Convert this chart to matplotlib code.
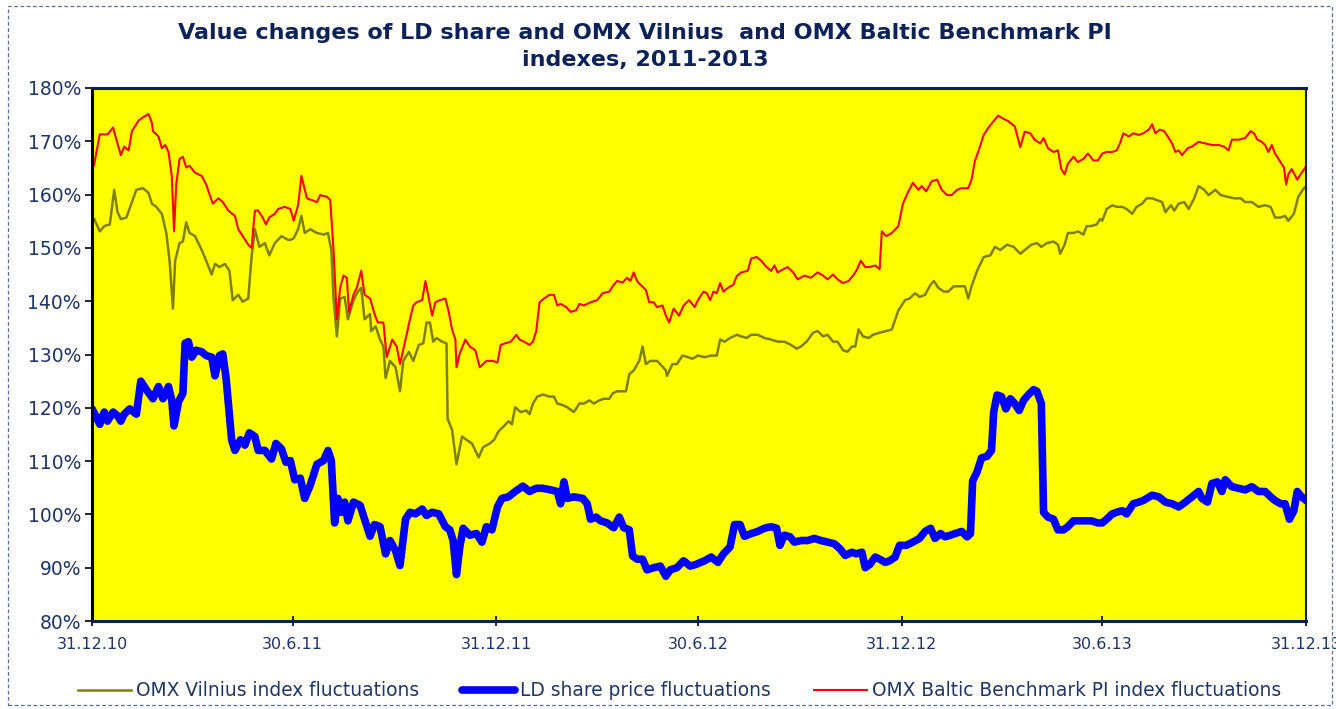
import matplotlib
matplotlib.use('Agg')
import matplotlib.pyplot as plt
from matplotlib.patches import Rectangle

# days since 31.12.2010, values in %
vilnius_day = [0, 2, 7, 11, 16, 20, 23, 26, 31, 36, 40, 46, 51, 54, 58, 63, 67, 70, 73, 75,
               79, 82, 85, 88, 93, 99, 103, 108, 111, 115, 120, 124, 127, 132, 136, 141, 144, 147, 151, 156,
               160, 165, 171, 177, 179, 182, 186, 189, 192, 197, 203, 209, 213, 216, 218, 221, 224, 228, 231, 236,
               240, 243, 246, 251, 252, 256, 260, 263, 265, 269, 274, 278, 281, 286, 290, 295, 299, 302, 305, 308,
               311, 316, 320, 321, 325, 329, 334, 338, 343, 349, 353, 359, 363, 367, 372, 376, 379, 382, 387, 392,
               395, 398, 402, 407, 413, 417, 420, 425, 429, 435, 440, 444, 449, 453, 458, 462, 467, 470, 474, 479,
               482, 485, 489, 494, 497, 500, 504, 510, 513, 518, 519, 524, 528, 533, 538, 542, 547, 553, 559, 564,
               567, 571, 576, 582, 586, 591, 595, 601, 607, 613, 619, 625, 631, 636, 640, 645, 651, 655, 660, 664,
               669, 673, 678, 682, 686, 689, 692, 696, 701, 705, 711, 717, 722, 728, 734, 738, 743, 747, 752, 757,
               760, 764, 769, 773, 778, 784, 788, 791, 794, 799, 805, 811, 815, 820, 826, 832, 838, 842, 848, 853,
               857, 862, 868, 872, 874, 878, 881, 886, 890, 895, 898, 902, 907, 910, 912, 916, 921, 925, 930, 934,
               939, 943, 948, 952, 957, 962, 966, 969, 974, 977, 981, 986, 990, 995, 999, 1004, 1008, 1014, 1019, 1025,
               1031, 1037, 1041, 1047, 1053, 1059, 1064, 1068, 1073, 1077, 1080, 1085, 1089, 1094, 1096]
vilnius_pct = [155.7, 155.4, 153.1, 154.1, 154.4, 160.9, 156.7, 155.4, 155.7, 158.6, 160.9, 161.2, 160.3, 158.3, 157.7, 156.4, 152.8, 147.6, 138.6, 147.6,
               150.9, 151.2, 154.8, 152.8, 152.2, 149.6, 147.6, 145.0, 147.0, 146.4, 147.0, 145.7, 140.2, 141.2, 139.9, 140.5, 148.3, 153.5, 150.2, 150.9,
               148.6, 150.9, 152.2, 151.5, 151.5, 151.8, 153.5, 156.0, 152.8, 153.5, 152.8, 152.5, 152.8, 149.6, 140.5, 133.4, 140.5, 140.8, 136.6, 140.2,
               141.8, 142.5, 136.6, 137.6, 134.4, 135.3, 132.8, 131.5, 125.6, 128.8, 127.6, 123.1, 128.8, 130.5, 128.8, 131.8, 132.1, 136.0, 136.0, 132.4,
               133.1, 132.4, 132.1, 117.9, 115.9, 109.4, 114.6, 114.0, 113.3, 110.7, 112.6, 113.3, 114.0, 115.6, 116.6, 117.5, 116.9, 120.1, 119.2, 119.5,
               118.8, 120.8, 122.1, 122.5, 122.1, 122.1, 120.8, 120.5, 120.1, 119.2, 120.8, 120.8, 121.4, 120.8, 121.4, 121.7, 121.7, 122.7, 123.1, 123.1,
               123.1, 126.3, 127.0, 128.8, 131.5, 128.2, 128.8, 128.8, 128.2, 127.0, 126.0, 128.2, 128.2, 129.8, 129.5, 129.2, 129.8, 129.5, 129.8, 129.8,
               132.8, 132.4, 133.1, 133.7, 133.4, 133.1, 133.7, 133.7, 133.1, 132.8, 132.4, 132.4, 131.8, 131.1, 131.5, 132.4, 134.1, 134.4, 133.4, 133.7,
               132.4, 132.4, 130.8, 130.5, 131.5, 131.5, 134.7, 133.4, 133.1, 133.7, 134.1, 134.4, 134.7, 138.3, 140.2, 140.5, 141.5, 140.8, 141.2, 143.1,
               143.8, 142.5, 141.8, 141.8, 142.8, 142.8, 142.8, 140.5, 142.8, 145.7, 148.3, 148.6, 150.2, 149.6, 150.6, 150.2, 148.9, 149.6, 150.6, 150.9,
               150.2, 150.9, 151.2, 150.6, 148.9, 150.6, 152.8, 152.8, 153.1, 152.5, 154.1, 154.1, 154.4, 155.4, 155.1, 157.3, 158.0, 157.7, 157.7, 157.3,
               156.4, 157.7, 158.3, 159.3, 159.3, 158.9, 158.6, 156.7, 158.0, 157.0, 158.3, 158.6, 157.3, 159.3, 161.6, 160.9, 159.9, 160.9, 159.9, 159.6,
               159.3, 159.3, 158.6, 158.6, 157.7, 158.0, 157.7, 155.7, 155.7, 156.0, 155.1, 156.4, 159.6, 161.2, 161.5]

ld_day = [0, 4, 7, 11, 14, 19, 23, 26, 29, 34, 40, 44, 49, 55, 60, 64, 69, 72, 74, 78,
          82, 84, 87, 90, 94, 99, 103, 108, 111, 115, 118, 121, 126, 129, 134, 138, 142, 147, 150, 156,
          162, 166, 171, 175, 179, 183, 188, 192, 197, 203, 209, 213, 216, 219, 222, 225, 228, 231, 236, 242,
          246, 251, 255, 260, 265, 269, 274, 278, 283, 287, 292, 298, 302, 307, 313, 319, 323, 326, 329, 332,
          335, 341, 347, 352, 356, 361, 366, 370, 376, 382, 389, 395, 401, 407, 414, 420, 423, 426, 429, 435,
          443, 447, 450, 455, 459, 465, 471, 476, 480, 485, 488, 492, 497, 501, 507, 513, 518, 522, 528, 534,
          540, 545, 553, 559, 565, 570, 576, 580, 585, 589, 595, 601, 607, 613, 618, 621, 625, 630, 634, 640,
          646, 652, 658, 664, 670, 675, 680, 686, 690, 695, 698, 702, 707, 711, 716, 720, 725, 729, 735, 741,
          747, 752, 757, 761, 766, 770, 775, 779, 785, 790, 793, 795, 799, 803, 808, 812, 814, 817, 821, 825,
          829, 833, 837, 841, 845, 850, 853, 857, 859, 863, 868, 872, 877, 881, 886, 890, 896, 902, 908, 912,
          916, 921, 925, 930, 934, 940, 945, 949, 957, 963, 969, 975, 981, 987, 993, 999, 1002, 1007, 1011, 1016,
          1020, 1023, 1029, 1035, 1041, 1047, 1053, 1059, 1064, 1068, 1073, 1077, 1081, 1085, 1088, 1092, 1096]
ld_pct = [119.8, 118.2, 116.9, 119.2, 117.5, 119.2, 118.5, 117.5, 118.8, 119.8, 118.8, 125.0, 123.4, 121.7, 124.0, 121.7, 124.0, 121.4, 116.6, 121.1,
          122.7, 132.1, 132.4, 129.5, 130.8, 130.5, 129.8, 129.5, 126.0, 129.8, 130.1, 125.6, 114.0, 112.0, 114.0, 113.0, 115.3, 114.6, 112.0, 112.0,
          110.4, 113.3, 112.3, 109.8, 110.1, 106.5, 106.8, 103.0, 105.5, 109.4, 110.1, 112.0, 110.1, 98.4, 103.0, 100.4, 102.3, 98.8, 102.3, 101.7,
          99.1, 95.9, 98.1, 97.7, 92.6, 95.1, 93.2, 90.4, 99.1, 100.4, 100.1, 101.0, 99.8, 100.4, 100.1, 97.7, 97.1, 95.1, 88.7, 93.9,
          97.4, 96.1, 96.4, 94.8, 97.7, 97.1, 101.4, 103.0, 103.3, 104.3, 105.3, 104.3, 104.9, 104.9, 104.6, 104.3, 102.0, 106.1, 103.0, 103.3,
          103.0, 102.0, 99.1, 99.5, 98.8, 98.4, 97.5, 99.5, 97.5, 97.1, 92.2, 91.6, 91.6, 89.6, 90.0, 90.3, 88.4, 89.6, 90.0, 91.3,
          90.3, 90.6, 91.3, 92.0, 91.0, 92.6, 93.9, 98.1, 98.1, 95.9, 96.4, 96.8, 97.4, 97.7, 97.4, 94.2, 96.1, 95.8, 94.8, 95.1,
          95.1, 95.5, 95.1, 94.8, 94.5, 93.6, 92.3, 92.9, 92.6, 92.9, 90.0, 90.6, 92.0, 91.6, 91.0, 91.3, 92.0, 94.2, 94.2, 94.8,
          95.5, 96.8, 97.4, 95.5, 96.4, 95.8, 96.1, 96.4, 96.8, 95.8, 96.4, 106.3, 108.0, 110.6, 110.9, 112.0, 119.2, 122.4, 122.1, 119.8,
          121.7, 120.8, 119.5, 121.4, 122.4, 123.4, 123.1, 120.8, 100.4, 99.5, 99.1, 97.1, 97.1, 97.7, 98.8, 98.8, 98.8, 98.8, 98.4, 98.4,
          99.1, 100.1, 100.4, 100.7, 100.1, 102.0, 102.3, 102.6, 103.6, 103.3, 102.3, 102.0, 101.4, 102.3, 103.3, 104.3, 103.0, 102.3, 105.8, 106.1,
          104.3, 106.5, 105.2, 104.9, 104.6, 105.2, 104.3, 104.3, 103.3, 102.6, 102.0, 102.0, 99.1, 100.7, 104.3, 103.3, 102.6]

baltic_day = [0, 2, 7, 14, 19, 22, 26, 29, 33, 36, 42, 46, 51, 54, 55, 60, 63, 66, 69, 72,
              74, 76, 79, 82, 85, 88, 93, 99, 103, 109, 114, 118, 123, 129, 132, 136, 141, 144, 147, 150,
              154, 157, 160, 165, 168, 174, 179, 182, 186, 189, 194, 198, 203, 206, 212, 215, 218, 221, 224, 227,
              230, 232, 236, 239, 243, 246, 251, 255, 258, 263, 266, 271, 275, 278, 283, 287, 290, 293, 298, 301,
              304, 307, 310, 314, 319, 322, 325, 328, 329, 332, 337, 341, 346, 350, 356, 362, 366, 369, 373, 378,
              383, 386, 390, 395, 398, 401, 404, 408, 413, 417, 420, 423, 428, 432, 437, 440, 444, 450, 456, 461,
              467, 470, 474, 479, 483, 486, 489, 492, 495, 500, 503, 507, 510, 515, 518, 521, 525, 530, 534, 539,
              544, 547, 552, 555, 558, 561, 564, 567, 570, 574, 579, 582, 586, 592, 595, 600, 604, 609, 613, 616,
              619, 624, 628, 633, 637, 643, 649, 655, 660, 664, 669, 673, 678, 683, 687, 690, 694, 698, 702, 707,
              711, 713, 717, 722, 728, 732, 737, 741, 746, 749, 753, 758, 763, 767, 772, 776, 781, 785, 791, 794,
              797, 800, 805, 809, 814, 818, 823, 827, 833, 838, 842, 847, 851, 856, 859, 863, 868, 872, 875, 878,
              881, 886, 890, 895, 899, 904, 908, 912, 916, 921, 925, 928, 931, 936, 940, 945, 949, 954, 957, 960,
              964, 968, 972, 975, 978, 981, 984, 989, 993, 999, 1005, 1011, 1017, 1022, 1026, 1029, 1035, 1041, 1046, 1049,
              1052, 1056, 1059, 1062, 1065, 1068, 1071, 1076, 1078, 1080, 1083, 1088, 1092, 1096]
baltic_pct = [164.5, 165.8, 171.3, 171.3, 172.6, 170.3, 167.4, 169.0, 168.3, 171.9, 173.9, 174.5, 175.1, 173.5, 171.9, 170.9, 168.7, 169.3, 168.0, 163.5,
              153.1, 161.9, 166.7, 167.1, 165.1, 165.4, 164.1, 163.5, 161.9, 158.3, 159.3, 158.6, 157.0, 156.0, 153.5, 152.2, 150.6, 150.0, 157.0, 157.0,
              155.7, 154.4, 155.7, 156.4, 157.3, 157.7, 157.3, 155.1, 158.0, 163.5, 159.3, 159.0, 158.6, 159.9, 159.6, 159.0, 149.6, 136.6, 142.5, 144.8,
              144.4, 138.0, 141.2, 142.5, 145.7, 141.2, 140.5, 137.6, 136.0, 136.0, 129.5, 132.8, 131.5, 128.2, 132.8, 136.6, 139.2, 139.8, 140.2, 143.8,
              140.5, 137.3, 139.8, 140.2, 140.5, 138.0, 134.7, 132.8, 127.6, 130.2, 132.8, 131.5, 130.8, 127.6, 128.8, 128.8, 128.5, 131.8, 132.1, 132.4,
              133.7, 132.8, 132.4, 131.8, 132.4, 134.4, 139.8, 140.5, 141.2, 141.2, 139.2, 139.5, 138.9, 138.0, 138.3, 139.5, 139.2, 139.8, 140.2, 141.5,
              141.8, 142.8, 143.8, 143.5, 144.4, 143.8, 145.4, 143.8, 143.1, 142.1, 139.8, 139.8, 138.9, 139.2, 137.3, 136.0, 138.6, 137.3, 139.2, 140.2,
              138.9, 140.2, 141.8, 141.5, 140.2, 141.8, 141.5, 143.4, 141.8, 142.5, 143.1, 144.7, 145.4, 145.7, 148.0, 148.3, 147.6, 146.4, 145.7, 146.7,
              145.4, 146.0, 146.4, 145.4, 144.1, 144.8, 144.4, 145.4, 144.8, 144.1, 145.0, 144.1, 143.4, 143.8, 144.8, 145.7, 147.6, 146.4, 146.4, 146.7,
              146.0, 153.1, 152.2, 152.8, 154.1, 158.3, 160.6, 162.2, 160.9, 161.6, 160.6, 162.5, 162.8, 160.9, 159.9, 159.9, 160.9, 161.2, 161.2, 162.8,
              166.3, 168.0, 171.2, 172.5, 173.8, 174.8, 174.2, 173.8, 172.8, 168.9, 171.8, 171.5, 170.3, 169.6, 170.6, 168.7, 168.0, 168.3, 164.8, 163.8,
              165.8, 167.1, 166.1, 166.7, 167.7, 166.4, 166.4, 167.7, 168.0, 168.0, 168.3, 169.6, 171.5, 170.9, 171.5, 171.2, 171.5, 172.2, 173.2, 171.5,
              172.2, 171.9, 170.6, 169.6, 168.0, 168.3, 167.4, 168.7, 169.0, 169.9, 169.6, 169.3, 169.3, 169.0, 168.3, 170.3, 170.3, 170.6, 171.9, 171.5,
              170.3, 169.9, 169.3, 168.0, 169.3, 167.7, 166.7, 165.1, 161.9, 163.8, 164.8, 162.8, 164.1, 165.3]

tick_days = [0, 181, 365, 547, 731, 912, 1096]
tick_labels = ['31.12.10', '30.6.11', '31.12.11', '30.6.12', '31.12.12', '30.6.13', '31.12.13']
y_ticks = [80, 90, 100, 110, 120, 130, 140, 150, 160, 170, 180]

navy = '#1F3566'

fig = plt.figure(figsize=(13.36, 7.09), dpi=100)
ax = fig.add_axes([0.0689, 0.1241, 0.9087, 0.7518])
ax.set_facecolor('#FFFF00')

l1, = ax.plot(vilnius_day, vilnius_pct, color='#808000', lw=1.8, label='OMX Vilnius index fluctuations')
l2, = ax.plot(ld_day, ld_pct, color='#0000FF', lw=5.5, solid_capstyle='round', label='LD share price fluctuations')
l3, = ax.plot(baltic_day, baltic_pct, color='#FF0000', lw=1.5, label='OMX Baltic Benchmark PI index fluctuations')

ax.set_xlim(0, 1096)
ax.set_ylim(80, 180)
ax.set_xticks(tick_days)
ax.set_xticklabels(tick_labels)
ax.set_yticks(y_ticks)
ax.set_yticklabels([f'{v}%' for v in y_ticks])
ax.tick_params(axis='y', direction='out', length=5, width=1.2, colors='black', labelcolor=navy, labelsize=13.5, pad=3)
ax.tick_params(axis='x', direction='inout', length=7, width=1.2, colors='black', labelcolor=navy, labelsize=11.5, pad=8)

ax.spines['left'].set_color('black')
ax.spines['left'].set_linewidth(2.2)
ax.spines['top'].set_color('#0B1F55')
ax.spines['top'].set_linewidth(2.2)
ax.spines['bottom'].set_color('#0B1F55')
ax.spines['bottom'].set_linewidth(2.2)
ax.spines['right'].set_color('#0B1F55')
ax.spines['right'].set_linewidth(1.5)
ax.spines['right'].set_linestyle((0, (2, 1)))

fig.suptitle('Value changes of LD share and OMX Vilnius  and OMX Baltic Benchmark PI\nindexes, 2011-2013',
             x=0.483, y=0.968, fontsize=16, fontweight='bold', color='#0D2257', linespacing=1.45)

leg = fig.legend(handles=[l1, l2, l3], loc='center', bbox_to_anchor=(0.5086, 0.026), ncol=3,
                 frameon=False, fontsize=13.4, handlelength=2.85, handletextpad=0.27, columnspacing=2.3)
for t in leg.get_texts():
    t.set_color(navy)

# dashed outer border of the chart area
fig.patches.append(Rectangle((0.006, 0.006), 0.991, 0.985, transform=fig.transFigure,
                             fill=False, edgecolor='#5A6E9A', lw=0.9, linestyle=(0, (3, 2))))

fig.savefig('out.png', dpi=100)
